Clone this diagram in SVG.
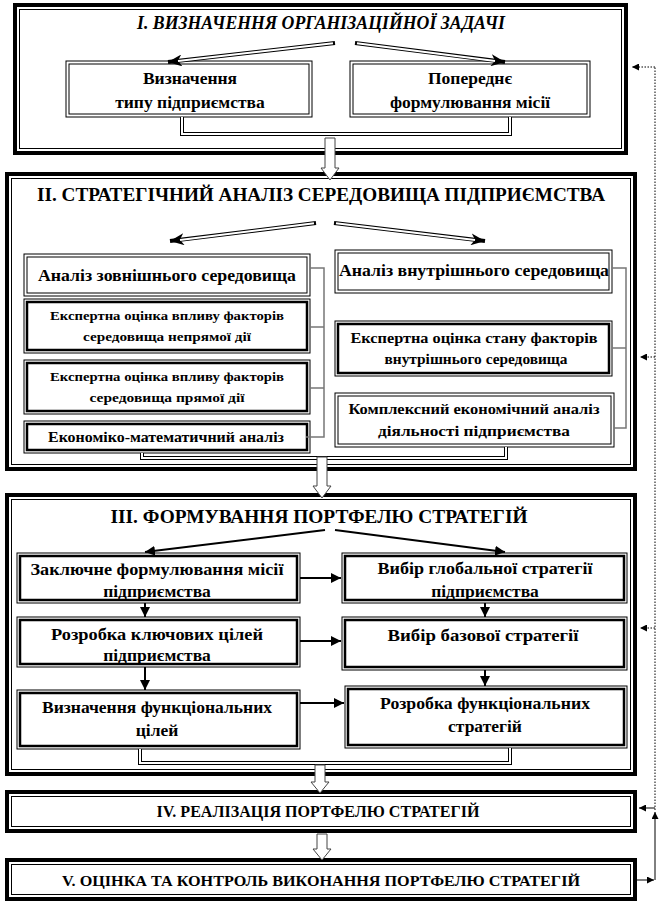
<svg xmlns="http://www.w3.org/2000/svg" width="662" height="906" viewBox="0 0 662 906">
<style>
text{font-family:"Liberation Serif","Times New Roman",serif;font-weight:bold;fill:#000;text-anchor:middle}
.so{fill:#fff;stroke:#000;stroke-width:4}
.si{fill:none;stroke:#000;stroke-width:1}
.o{fill:#fff;stroke:#000;stroke-width:1}
.i{fill:none;stroke:#000;stroke-width:1}
.it{fill:none;stroke:#000;stroke-width:2.5}
.dbk{fill:none;stroke:#000;stroke-width:4}
.dbw{fill:none;stroke:#fff;stroke-width:2}
.gr{fill:none;stroke:#777;stroke-width:1.5}
.ar{fill:none;stroke:#000;stroke-width:2}
.hol{fill:#fff;stroke:#444;stroke-width:1}
.dot{fill:none;stroke:#000;stroke-width:1;stroke-dasharray:1.5,1.5}
.fb{fill:none;stroke:#000;stroke-width:1}
.t17{font-size:18px}
.t16{font-size:17.5px}
.t14{font-size:15px}
.t13{font-size:14px}
.t12{font-size:13px}
</style>
<defs>
<marker id="ah" viewBox="0 0 10 10" refX="10" refY="5" markerWidth="10" markerHeight="10" markerUnits="userSpaceOnUse" orient="auto"><path d="M0,0 L10,5 L0,10 Z" fill="#000"/></marker>
<marker id="dh" viewBox="0 0 14 12" refX="14" refY="6" markerWidth="14" markerHeight="12" markerUnits="userSpaceOnUse" orient="auto"><path d="M0,0 L14,6 L0,12 L4,6 Z" fill="#000"/></marker>
<marker id="sh" viewBox="0 0 8 8" refX="8" refY="4" markerWidth="7" markerHeight="7" markerUnits="userSpaceOnUse" orient="auto"><path d="M0,0 L8,4 L0,8 Z" fill="#000"/></marker>
</defs>

<g id="section1">
<rect class="so" x="15" y="5" width="611" height="148"/>
<rect class="si" x="19.5" y="9.5" width="602" height="139"/>
<text class="t17" x="321" y="29" font-style="italic" textLength="368" lengthAdjust="spacingAndGlyphs">I. ВИЗНАЧЕННЯ ОРГАНІЗАЦІЙНОЇ ЗАДАЧІ</text>
</g>
<g id="box-type">
<rect class="o" x="66" y="61" width="246" height="56"/>
<rect class="i" x="69" y="64" width="240" height="50"/>
<text class="t16" x="190" y="84">Визначення</text>
<text class="t16" x="190" y="108">типу підприємства</text>
</g>
<g id="box-mission1">
<rect class="o" x="350" y="61" width="240" height="56"/>
<rect class="i" x="353" y="64" width="234" height="50"/>
<text class="t16" x="470" y="84">Попереднє</text>
<text class="t16" x="470" y="108">формулювання місії</text>
</g>

<g id="section2">
<rect class="so" x="7" y="174" width="628" height="295"/>
<rect class="si" x="11.5" y="178.5" width="619" height="286"/>
<text class="t17" x="321" y="201" textLength="568" lengthAdjust="spacingAndGlyphs">II. СТРАТЕГІЧНИЙ АНАЛІЗ СЕРЕДОВИЩА ПІДПРИЄМСТВА</text>
</g>
<g id="box-ext">
<rect class="o" x="24" y="254" width="286" height="42"/>
<rect class="i" x="27" y="257" width="280" height="36"/>
<text class="t16" x="167" y="281" textLength="258" lengthAdjust="spacingAndGlyphs">Аналіз зовнішнього середовища</text>
</g>
<g id="box-exp-indirect">
<rect class="o" x="24" y="299" width="286" height="54"/>
<rect class="it" x="27" y="302" width="280" height="48"/>
<text class="t12" x="167" y="320" textLength="234" lengthAdjust="spacingAndGlyphs">Експертна оцінка впливу факторів</text>
<text class="t12" x="167" y="341" textLength="168" lengthAdjust="spacingAndGlyphs">середовища непрямої дії</text>
</g>
<g id="box-exp-direct">
<rect class="o" x="24" y="360" width="286" height="54"/>
<rect class="it" x="27" y="363" width="280" height="48"/>
<text class="t12" x="167" y="381" textLength="234" lengthAdjust="spacingAndGlyphs">Експертна оцінка впливу факторів</text>
<text class="t12" x="167" y="402" textLength="155" lengthAdjust="spacingAndGlyphs">середовища прямої дії</text>
</g>
<g id="box-econ-math">
<rect class="o" x="24" y="421" width="286" height="32"/>
<rect class="it" x="27" y="424" width="280" height="26"/>
<text class="t13" x="166" y="442" textLength="236" lengthAdjust="spacingAndGlyphs">Економіко-математичний  аналіз</text>
</g>
<g id="box-int">
<rect class="o" x="335" y="250" width="277" height="43"/>
<rect class="i" x="338" y="253" width="271" height="37"/>
<text class="t16" x="474" y="276" textLength="270" lengthAdjust="spacingAndGlyphs">Аналіз внутрішнього середовища</text>
</g>
<g id="box-exp-int">
<rect class="o" x="335" y="321" width="277" height="55"/>
<rect class="it" x="338" y="324" width="271" height="49"/>
<text class="t13" x="474" y="343" textLength="247" lengthAdjust="spacingAndGlyphs">Експертна  оцінка  стану  факторів</text>
<text class="t13" x="476" y="364" textLength="183" lengthAdjust="spacingAndGlyphs">внутрішнього  середовища</text>
</g>
<g id="box-complex">
<rect class="o" x="335" y="393" width="279" height="54"/>
<rect class="i" x="338" y="396" width="273" height="48"/>
<text class="t14" x="474" y="414" textLength="251" lengthAdjust="spacingAndGlyphs">Комплексний  економічний  аналіз</text>
<text class="t14" x="474" y="436" textLength="192" lengthAdjust="spacingAndGlyphs">діяльності  підприємства</text>
</g>

<g id="section3">
<rect class="so" x="7" y="495" width="628" height="279"/>
<rect class="si" x="11.5" y="499.5" width="619" height="270"/>
<text class="t17" x="319" y="523" textLength="417" lengthAdjust="spacingAndGlyphs">III. ФОРМУВАННЯ ПОРТФЕЛЮ СТРАТЕГІЙ</text>
</g>
<g id="box-final-mission">
<rect class="o" x="17" y="553" width="283" height="50"/>
<rect class="it" x="20" y="556" width="277" height="44"/>
<text class="t16" x="157" y="575" textLength="253" lengthAdjust="spacingAndGlyphs">Заключне  формулювання місії</text>
<text class="t16" x="157" y="597">підприємства</text>
</g>
<g id="box-key-goals">
<rect class="o" x="17" y="617" width="283" height="50"/>
<rect class="it" x="20" y="620" width="277" height="44"/>
<text class="t16" x="157" y="640" textLength="212" lengthAdjust="spacingAndGlyphs">Розробка ключових цілей</text>
<text class="t16" x="157" y="661">підприємства</text>
</g>
<g id="box-func-goals">
<rect class="o" x="17" y="690" width="283" height="59"/>
<rect class="it" x="20" y="693" width="277" height="53"/>
<text class="t16" x="157" y="713" textLength="230" lengthAdjust="spacingAndGlyphs">Визначення функціональних</text>
<text class="t16" x="157" y="736">цілей</text>
</g>
<g id="box-global">
<rect class="o" x="342" y="553" width="285" height="50"/>
<rect class="it" x="345" y="556" width="279" height="44"/>
<text class="t16" x="485" y="574" textLength="215" lengthAdjust="spacingAndGlyphs">Вибір глобальної стратегії</text>
<text class="t16" x="485" y="597">підприємства</text>
</g>
<g id="box-base">
<rect class="o" x="342" y="617" width="285" height="53"/>
<rect class="it" x="345" y="620" width="279" height="47"/>
<text class="t16" x="483" y="641" textLength="191" lengthAdjust="spacingAndGlyphs">Вибір базової стратегії</text>
</g>
<g id="box-func-strat">
<rect class="o" x="345" y="686" width="282" height="62"/>
<rect class="it" x="348" y="689" width="276" height="56"/>
<text class="t16" x="485" y="709" textLength="210" lengthAdjust="spacingAndGlyphs">Розробка функціональних</text>
<text class="t16" x="485" y="732">стратегій</text>
</g>

<g id="section4">
<rect class="so" x="7" y="792" width="628" height="39"/>
<rect class="si" x="11.5" y="796.5" width="619" height="30"/>
<text class="t16" x="318" y="817" textLength="323" lengthAdjust="spacingAndGlyphs">IV. РЕАЛІЗАЦІЯ ПОРТФЕЛЮ СТРАТЕГІЙ</text>
</g>
<g id="section5">
<rect class="so" x="7" y="860" width="628" height="39"/>
<rect class="si" x="11.5" y="864.5" width="619" height="30"/>
<text class="t14" x="321" y="886" textLength="518" lengthAdjust="spacingAndGlyphs">V. ОЦІНКА ТА КОНТРОЛЬ ВИКОНАННЯ ПОРТФЕЛЮ  СТРАТЕГІЙ</text>
</g>

<g id="connectors">
<path class="dbk" d="M335,43 L168,62" marker-end="url(#dh)"/>
<path class="dbw" d="M333,43.2 L178,61"/>
<path class="dbk" d="M355,43 L505,62" marker-end="url(#dh)"/>
<path class="dbw" d="M357,43.3 L495,61"/>
<path class="dbk" d="M182,117 V134 H510 V117"/>
<path class="dbw" d="M182,117 V134 H510 V117"/>
<path class="dbk" d="M316,223 L170,241" marker-end="url(#dh)"/>
<path class="dbw" d="M314,223.2 L180,240"/>
<path class="dbk" d="M334,223 L485,241" marker-end="url(#dh)"/>
<path class="dbw" d="M336,223.2 L475,240"/>
<path class="gr" d="M310,268 H324 V437 H306"/>
<path class="gr" d="M310,327 H324 M310,388 H324"/>
<path class="gr" d="M612,268 H626 V428 H614"/>
<path class="gr" d="M612,348 H626"/>
<path class="dbk" d="M142,453 V458 H506 V447"/>
<path class="dbw" d="M142,453 V458 H506 V447"/>
<path class="ar" d="M325,530 L145,552" marker-end="url(#ah)"/>
<path class="ar" d="M335,530 L505,552" marker-end="url(#ah)"/>
<path class="ar" d="M300,578 H341" marker-end="url(#ah)"/>
<path class="ar" d="M300,641 H341" marker-end="url(#ah)"/>
<path class="ar" d="M300,703 H344" marker-end="url(#ah)"/>
<path class="ar" d="M145,603 V617" marker-end="url(#ah)"/>
<path class="ar" d="M145,667 V690" marker-end="url(#ah)"/>
<path class="ar" d="M485,603 V617" marker-end="url(#ah)"/>
<path class="ar" d="M485,670 V686" marker-end="url(#ah)"/>
<path class="dbk" d="M140,749 V763 H510 V748"/>
<path class="dbw" d="M140,749 V763 H510 V748"/>
<path class="hol" d="M325,138 V168 H321 L330,180 L339,168 H335 V138 Z"/>
<path class="hol" d="M317,457 V486 H313 L322,498 L331,486 H327 V457 Z"/>
<path class="hol" d="M315,765 V782 H311 L320,793 L329,782 H325 V765 Z"/>
<path class="hol" d="M317,834 V849 H313 L322,860 L331,849 H327 V834 Z"/>
<path class="dot" d="M655,810 V67"/>
<path class="dot" d="M655,67 H632" marker-end="url(#sh)"/>
<path class="dot" d="M655,357 H640" marker-end="url(#sh)"/>
<path class="dot" d="M655,628 H640" marker-end="url(#sh)"/>
<path class="fb" d="M655,808 H639" marker-end="url(#sh)"/>
<path class="fb" d="M655,880 V812" marker-end="url(#sh)"/>
<path class="fb" d="M637,880 H654" marker-end="url(#sh)"/>
</g>
</svg>
